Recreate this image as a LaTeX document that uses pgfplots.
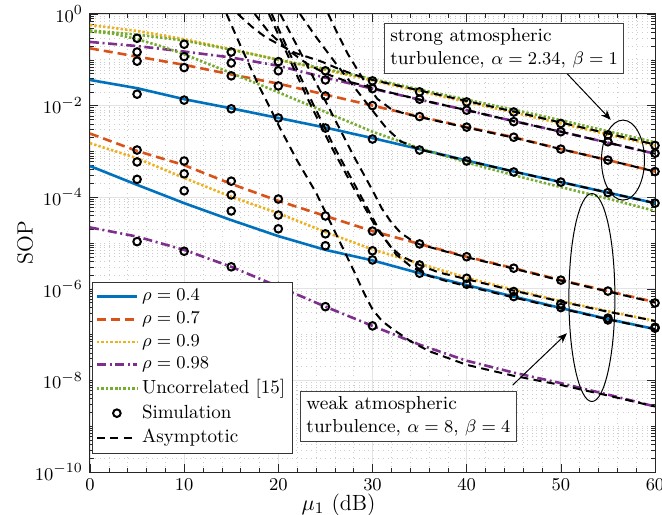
\documentclass[border=0pt]{standalone}
\usepackage{pgfplots}
\pgfplotsset{compat=1.18}
\usetikzlibrary{arrows.meta}
\definecolor{mblue}{rgb}{0,0.447,0.741}
\definecolor{mred}{rgb}{0.850,0.325,0.098}
\definecolor{myellow}{rgb}{0.929,0.694,0.125}
\definecolor{mpurple}{rgb}{0.494,0.184,0.556}
\definecolor{mgreen}{rgb}{0.466,0.674,0.188}
% y values are log10(SOP)
\begin{document}
\begin{tikzpicture}
\begin{axis}[name=ax,
  width=282.5pt, height=229pt, scale only axis,
  xmin=0, xmax=60, ymin=-10, ymax=0,
  xtick={0,10,...,60}, minor x tick num=4,
  ytick={-10,-8,...,0},
  yticklabels={$10^{-10}$,$10^{-8}$,$10^{-6}$,$10^{-4}$,$10^{-2}$,$10^{0}$},
  minor ytick={-9.69897,-9.52288,-9.39794,-9.30103,-9.22185,-9.15490,-9.09691,-9.04576,-9,
    -8.69897,-8.52288,-8.39794,-8.30103,-8.22185,-8.15490,-8.09691,-8.04576,
    -7.69897,-7.52288,-7.39794,-7.30103,-7.22185,-7.15490,-7.09691,-7.04576,-7,
    -6.69897,-6.52288,-6.39794,-6.30103,-6.22185,-6.15490,-6.09691,-6.04576,
    -5.69897,-5.52288,-5.39794,-5.30103,-5.22185,-5.15490,-5.09691,-5.04576,-5,
    -4.69897,-4.52288,-4.39794,-4.30103,-4.22185,-4.15490,-4.09691,-4.04576,
    -3.69897,-3.52288,-3.39794,-3.30103,-3.22185,-3.15490,-3.09691,-3.04576,-3,
    -2.69897,-2.52288,-2.39794,-2.30103,-2.22185,-2.15490,-2.09691,-2.04576,
    -1.69897,-1.52288,-1.39794,-1.30103,-1.22185,-1.15490,-1.09691,-1.04576,-1,
    -0.69897,-0.52288,-0.39794,-0.30103,-0.22185,-0.15490,-0.09691,-0.04576},
  grid=both,
  major grid style={gray!22, line width=0.4pt},
  minor grid style={gray!40, dotted, line width=0.3pt},
  major tick length=4pt, minor tick length=2pt,
  axis line style={black!85, line width=0.5pt},
  tick style={black!85},
  tick label style={font=\fontsize{9.5}{11}\selectfont},
  xlabel={$\mu_1$ (dB)},
  ylabel={SOP},
  label style={font=\fontsize{11}{13}\selectfont},
  xlabel style={at={(axis description cs:0.44,-0.072)}, anchor=center},
  ylabel style={at={(axis description cs:-0.115,0.5)}, anchor=center},
  legend cell align=left,
  legend style={at={(0.004,0.415)}, anchor=north west, font=\fontsize{9.5}{11}\selectfont,
    draw=black!80, fill=white, inner sep=1.5pt, row sep=0pt},
  legend image code/.code={\draw[mark repeat=2,mark phase=2,#1] plot coordinates {(0cm,0cm) (0.35cm,0cm) (0.7cm,0cm)};},
  clip mode=individual,
]
% ---- strong turbulence, analytical
\addplot[mblue, line width=1.3pt] coordinates {(0,-1.44) (5,-1.62) (10,-1.86) (15,-2.06) (20,-2.27) (25,-2.48) (30,-2.71) (35,-2.95) (40,-3.2) (45,-3.44) (50,-3.67) (55,-3.9) (60,-4.13)};
\addlegendentry{$\rho=0.4$}
\addplot[mred, line width=1.3pt, dash pattern=on 4.5pt off 2.5pt] coordinates {(0,-0.75) (5,-0.93) (10,-1.11) (15,-1.32) (20,-1.52) (25,-1.76) (30,-2.0) (35,-2.24) (40,-2.47) (45,-2.69) (50,-2.95) (55,-3.19) (60,-3.44)};
\addlegendentry{$\rho=0.7$}
\addplot[myellow, line width=1.3pt, dash pattern=on 1.2pt off 1pt] coordinates {(0,-0.24) (5,-0.37) (10,-0.55) (15,-0.77) (20,-1.0) (25,-1.22) (30,-1.45) (35,-1.69) (40,-1.92) (45,-2.15) (50,-2.39) (55,-2.63) (60,-2.87)};
\addlegendentry{$\rho=0.9$}
\addplot[mpurple, line width=1.3pt, dash pattern=on 4.5pt off 1.8pt on 1pt off 1.8pt] coordinates {(0,-0.61) (5,-0.70) (10,-0.82) (15,-0.95) (20,-1.13) (25,-1.39) (30,-1.63) (35,-1.87) (40,-2.1) (45,-2.34) (50,-2.57) (55,-2.81) (60,-3.05)};
\addlegendentry{$\rho=0.98$}
\addplot[mgreen, line width=1.3pt, dash pattern=on 1.2pt off 1pt] coordinates {(0,-0.36) (5,-0.45) (10,-0.58) (15,-0.78) (20,-1.0) (25,-1.2) (30,-1.42) (35,-1.65) (40,-1.87) (45,-2.09) (50,-2.32) (55,-2.56) (60,-2.80)};
\addlegendentry{Uncorrelated [15]}
\addplot[mgreen, line width=1.3pt, dash pattern=on 1.2pt off 1pt, forget plot] coordinates {(0,-0.38) (2.5,-0.43) (5,-0.55) (7.5,-0.7) (10,-0.88) (15,-1.29) (20,-1.71) (25,-2.14) (30,-2.57) (35,-2.93) (40,-3.24) (45,-3.52) (50,-3.78) (55,-4.03) (60,-4.3)};
% ---- weak turbulence, analytical
\addplot[mblue, line width=1.3pt, forget plot] coordinates {(0,-3.32) (5,-3.73) (10,-4.13) (15,-4.50) (20,-4.85) (25,-5.15) (30,-5.38) (35,-5.66) (40,-5.92) (45,-6.17) (50,-6.42) (55,-6.66) (60,-6.88)};
\addplot[mred, line width=1.3pt, dash pattern=on 4.5pt off 2.5pt, forget plot] coordinates {(0,-2.61) (5,-2.99) (10,-3.3) (15,-3.71) (20,-4.08) (25,-4.41) (30,-4.74) (35,-5.02) (40,-5.30) (45,-5.55) (50,-5.81) (55,-6.05) (60,-6.29)};
\addplot[myellow, line width=1.3pt, dash pattern=on 1.2pt off 1pt, forget plot] coordinates {(0,-2.82) (5,-3.15) (10,-3.58) (15,-3.99) (20,-4.35) (25,-4.76) (30,-5.14) (35,-5.45) (40,-5.76) (45,-6.02) (50,-6.27) (55,-6.49) (60,-6.70)};
\addplot[mpurple, line width=1.3pt, dash pattern=on 4.5pt off 1.8pt on 1pt off 1.8pt, forget plot] coordinates {(0,-4.66) (5,-4.86) (10,-5.15) (15,-5.52) (20,-5.95) (25,-6.39) (30,-6.81) (35,-7.22) (40,-7.57) (45,-7.83) (50,-8.06) (55,-8.31) (60,-8.57)};
% ---- simulation
\addplot[only marks, mark=o, mark size=1.9pt, mark options={line width=1pt, black}] coordinates {
 (5,-0.53) (5,-0.83) (5,-1.03) (5,-1.75)
 (10,-0.66) (10,-0.93) (10,-1.17) (10,-1.88)
 (15,-0.83) (15,-1.07) (15,-1.35) (15,-2.07)
 (20,-1.04) (20,-1.24) (20,-1.57) (20,-2.27)
 (25,-1.24) (25,-1.44) (25,-1.79) (25,-2.49)
 (30,-1.46) (30,-1.63) (30,-2.0) (30,-2.73)
 (35,-1.70) (35,-1.86) (35,-2.24) (35,-2.97)
 (40,-1.92) (40,-2.10) (40,-2.47) (40,-3.21)
 (45,-2.14) (45,-2.35) (45,-2.69) (45,-3.45)
 (50,-2.39) (50,-2.57) (50,-2.95) (50,-3.67)
 (55,-2.64) (55,-2.79) (55,-3.19) (55,-3.90)
 (60,-2.87) (60,-3.04) (60,-3.44) (60,-4.13)
 (5,-2.97) (5,-3.23) (5,-3.61) (5,-4.97)
 (10,-3.21) (10,-3.49) (10,-3.86) (10,-5.18)
 (15,-3.65) (15,-3.95) (15,-4.30) (15,-5.52)
 (20,-4.04) (20,-4.39) (20,-4.69) (20,-5.95)
 (25,-4.41) (25,-4.80) (25,-5.06) (25,-6.39)
 (30,-4.74) (30,-5.17) (30,-5.37) (30,-6.81)
 (35,-5.02) (35,-5.48) (35,-5.66)
 (40,-5.30) (40,-5.77) (40,-5.90)
 (45,-5.55) (45,-6.06) (45,-6.17)
 (50,-5.81) (50,-6.33) (50,-6.41)
 (55,-6.05) (55,-6.64) (55,-6.68)
 (60,-6.31) (60,-6.84) (60,-6.86)};
\addlegendentry{Simulation}
% ---- asymptotic
\addplot[black, line width=1pt, dash pattern=on 4pt off 2.7pt] coordinates {(22.3,0) (24,-0.5) (26,-1.05) (28,-1.58) (29.7,-2.03) (31.5,-2.5) (33,-2.78) (35,-2.96) (40,-3.2) (45,-3.44) (50,-3.67) (55,-3.9) (60,-4.13)};
\addlegendentry{Asymptotic}
\addplot[black, line width=1pt, dash pattern=on 4pt off 2.7pt, forget plot] coordinates {(25.3,0) (26.2,-0.39) (27.4,-0.88) (29,-1.42) (30.5,-1.85) (32,-2.08) (33.5,-2.18) (35,-2.25) (40,-2.48) (45,-2.7) (50,-2.95) (55,-3.19) (60,-3.44)};
\addplot[black, line width=1pt, dash pattern=on 4pt off 2.7pt, forget plot] coordinates {(15.7,0) (17.2,-0.28) (18.6,-0.5) (20.2,-0.68) (21.8,-0.85) (24.6,-1.04) (26.2,-1.18) (28,-1.32) (30,-1.44) (35,-1.67) (40,-1.9) (45,-2.13) (50,-2.37) (55,-2.61) (60,-2.85)};
\addplot[black, line width=1pt, dash pattern=on 4pt off 2.7pt, forget plot] coordinates {(17.5,0) (19,-0.4) (21,-0.78) (23,-1.08) (25,-1.3) (27,-1.45) (29,-1.56) (31,-1.67) (33,-1.77) (35,-1.87) (40,-2.1) (45,-2.34) (50,-2.57) (55,-2.81) (60,-3.05)};
\addplot[black, line width=1pt, dash pattern=on 4pt off 2.7pt, forget plot] coordinates {(14.5,0) (16,-0.7) (18,-1.6) (19,-2.0) (20.2,-2.5) (22,-3.2) (24,-3.9) (26,-4.75) (28,-5.6) (29,-6.05) (30,-6.45) (31,-6.7) (32,-6.86) (34,-7.14) (36,-7.36) (40,-7.66) (45,-7.9) (50,-8.1) (55,-8.33) (60,-8.57)};
\addplot[black, line width=1pt, dash pattern=on 4pt off 2.7pt, forget plot] coordinates {(19,0) (20,-0.45) (21,-0.9) (23,-1.8) (25.5,-2.85) (28,-3.8) (30.5,-4.7) (32,-5.1) (33,-5.28) (35,-5.48) (37,-5.64) (40,-5.79) (45,-6.04) (50,-6.28) (55,-6.5) (60,-6.7)};
\addplot[black, line width=1pt, dash pattern=on 4pt off 2.7pt, forget plot] coordinates {(19.3,0) (20.3,-0.45) (21.3,-0.9) (23.3,-1.8) (25.8,-2.85) (28.3,-3.8) (30.8,-4.75) (32.5,-5.25) (34,-5.5) (36,-5.72) (38,-5.84) (40,-5.94) (45,-6.19) (50,-6.43) (55,-6.67) (60,-6.88)};
\addplot[black, line width=1pt, dash pattern=on 4pt off 2.7pt, forget plot] coordinates {(20.2,0) (22,-0.7) (24,-1.5) (26,-2.3) (28,-3.1) (30,-3.85) (31,-4.25) (32,-4.55) (33,-4.78) (34,-4.92) (35,-5.03) (40,-5.31) (45,-5.56) (50,-5.82) (55,-6.06) (60,-6.3)};
% ---- annotations
\draw[black, line width=0.5pt] (axis cs:56.6,-3.19) ellipse [x radius=10.75pt, y radius=20pt];
\draw[black, line width=0.5pt] (axis cs:53.3,-6.19) ellipse [x radius=11.5pt, y radius=52pt];
\draw[black, line width=0.5pt, -{Stealth[length=5pt,width=4pt]}] (axis cs:50.1,-1.18) -- (axis cs:55.3,-2.31);
\draw[black, line width=0.5pt, -{Stealth[length=5pt,width=4pt]}] (axis cs:44.9,-8.10) -- (axis cs:50.65,-6.97);
\node[draw=black!75, fill=white, line width=0.5pt, anchor=north west, align=left, inner xsep=3pt, inner ysep=2.5pt, font=\fontsize{9.4}{11.5}\selectfont]
  at (axis cs:31.2,-0.197) {strong atmospheric\\turbulence, $\alpha=2.34$, $\beta=1$};
\node[draw=black!75, fill=white, line width=0.5pt, anchor=north west, align=left, inner xsep=3pt, inner ysep=2.5pt, font=\fontsize{9.4}{11.5}\selectfont]
  at (axis cs:22.3,-8.23) {weak atmospheric\\turbulence, $\alpha=8$, $\beta=4$};
\end{axis}
\pgfresetboundingbox
\path ([shift={(-45pt,-21pt)}]ax.south west) rectangle ([shift={(3.5pt,7pt)}]ax.north east);
\end{tikzpicture}
\end{document}
